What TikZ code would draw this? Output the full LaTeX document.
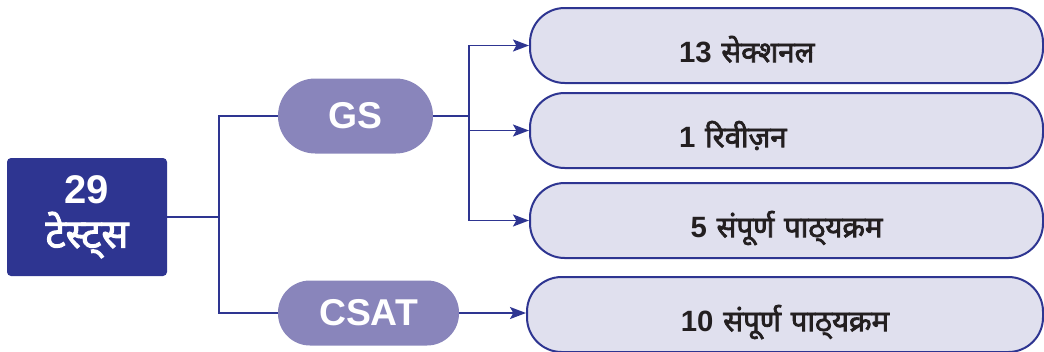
\documentclass[tikz,border=0pt]{standalone}
\usepackage{fontspec}
\setmainfont{Liberation Sans}
\newfontfamily\devafont[Script=Devanagari, BoldFont={Noto Sans},
  BoldFeatures={FakeBold=2.5}]{Noto Sans}
\usetikzlibrary{arrows.meta}
\usetikzlibrary{positioning}
\definecolor{navy}{HTML}{2E3591}
\definecolor{lavender}{HTML}{8985BB}
\definecolor{paleblue}{HTML}{E0E0EE}
\definecolor{inkblack}{HTML}{231F20}
\tikzset {
  link/.style = {
    draw = navy,
    line width = 1.3pt
  },
  % path style with an arrow at the end
  arr/.style = {
    link,
    -{Stealth[length = 12pt, width = 9pt, inset = 2.5pt]}
  }
}
\tikzset {
  % total number of tests
  tests/.style = {
    fill = navy,
    rounded corners = 3pt,
    minimum width = 120pt,
    minimum height = 88.5pt,
    align = center,
    text = white,
    font = \bfseries\fontsize{30}{37}\selectfont
  },
  % paper type
  branch/.style = {
    fill = lavender,
    rounded corners = 24pt,
    text = white,
    font = \bfseries\fontsize{28}{32}\selectfont
  },
  % test series
  item/.style = {
    draw = navy,
    fill = paleblue,
    line width = 1.5pt,
    rounded corners = 26pt,
    minimum width = 384.75pt,
    minimum height = 56.25pt,
    text width = 161.25pt,
    text height = 28pt,
    text depth = 3pt,
    inner xsep = 111.75pt,
    align = left,
    text = inkblack,
    font = \bfseries\fontsize{22}{26}\selectfont
  }
}
\begin{document}
\begin{tikzpicture}[x = 0.75pt, y = -0.75pt]
    \useasboundingbox (0,0) rectangle (1044,351);
    \node[tests] (tests) at (87,217) {29\\[-4pt]{\devafont टेस्ट्स}};
    \coordinate[right=39pt of tests] (split);
    \node[branch, minimum width = 116.25pt, minimum height = 56.25pt,
      rounded corners = 28pt] (gs) at (355.5,116) {GS};
    \node[branch, minimum width = 135.75pt, minimum height = 48.75pt]
      (csat) at (368.5,313) {CSAT};
    \coordinate[right=27pt of gs] (fork);

    \node[item] (sectional) at (786.5,45.5) {13 {\devafont सेक्शनल}};
    \node[item] (revision) at (786.5,130.5) {1 {\devafont रिवीज़न}};
    \node[item, align = center] (full-gs) at (786.5,220.5)
      {5 {\devafont संपूर्ण पाठ्^^^^200cयक्रम}};
    \node[item, align = center, minimum width = 387pt] (full-csat)
      at (785,314.5) {10 {\devafont संपूर्ण पाठ्^^^^200cयक्रम}};

    \draw[link] (tests) -- (split) |- (gs);
    \draw[link] (split) |- (csat);
    \draw[link] (gs) -- (fork);

    \draw[arr] (fork) |- (sectional);
    \draw[arr] (fork) |- (revision);
    \draw[arr] (fork) |- (full-gs);
    \draw[arr] (csat) -- (csat -| full-csat.west);
  \end{tikzpicture}
\end{document}
